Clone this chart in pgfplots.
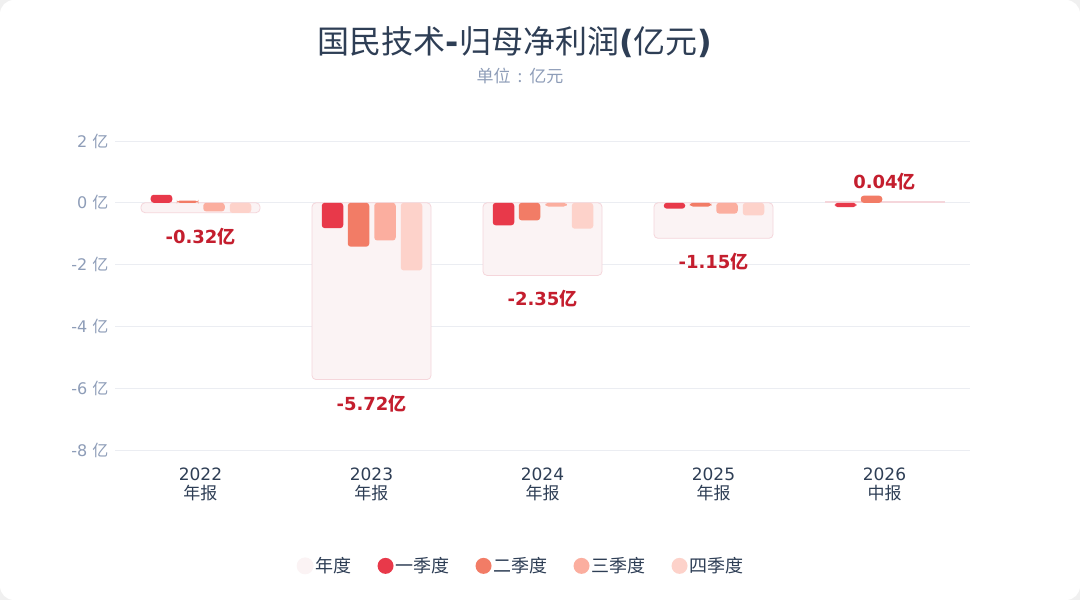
\documentclass[border=0pt]{standalone}
\usepackage{pgfplots}
\pgfplotsset{compat=1.18}
\usepackage{fontspec}
\setmainfont{DejaVu Sans}
\newfontfamily\cjk{Noto Sans CJK SC}
\newfontfamily\djv{DejaVu Sans}
\definecolor{qa}{HTML}{E8394A}
\definecolor{qb}{HTML}{F27C66}
\definecolor{qc}{HTML}{FBAE9F}
\definecolor{qd}{HTML}{FDD2CA}
\definecolor{annf}{HTML}{FBF3F4}
\definecolor{annd}{HTML}{F5D6DB}
\definecolor{lblred}{HTML}{C41E2E}
\definecolor{titlec}{HTML}{2E3E55}
\definecolor{grayc}{HTML}{8E9DB8}
\definecolor{gridc}{HTML}{EBEDF2}
\begin{document}
\begin{tikzpicture}[x=1pt,y=1pt]
\fill[black!6] (0,0) rectangle (1080,600);
\fill[white,rounded corners=14pt] (0,0) rectangle (1080,600);
\node[font=\cjk\fontsize{32}{36}\selectfont, text=titlec] at (515,558) {国民技术{\djv\bfseries -}归母净利润{\djv\bfseries (}亿元{\djv\bfseries )}};
\node[font=\cjk\fontsize{17}{20}\selectfont, text=grayc] at (520,524) {单位\hspace{7pt}:\hspace{7pt}亿元};
\begin{axis}[
  at={(115pt,150pt)}, anchor=south west,
  scale only axis, width=855pt, height=309pt,
  xmin=-0.5, xmax=4.5, ymin=-8, ymax=2,
  ytick={-8,-6,-4,-2,0,2},
  yticklabels={{-8 {\cjk 亿}},{-6 {\cjk 亿}},{-4 {\cjk 亿}},{-2 {\cjk 亿}},{0 {\cjk 亿}},{2 {\cjk 亿}}},
  xtick={0,1,2,3,4},
  xticklabels={{2022\\{\cjk 年报}},{2023\\{\cjk 年报}},{2024\\{\cjk 年报}},{2025\\{\cjk 年报}},{2026\\{\cjk 中报}}},
  xticklabel style={align=center, font=\fontsize{17}{19}\selectfont, text=titlec, yshift=-14pt},
  yticklabel style={font=\fontsize{16}{18}\selectfont, text=grayc, xshift=-3pt},
  ymajorgrids, grid style={draw=gridc, line width=0.8pt},
  axis line style={draw=none}, major tick length=0pt,
  clip=false,
  legend columns=5,
  legend style={at={(axis description cs:0.475,-0.375)}, anchor=center, draw=none, fill=none,
    font=\cjk\fontsize{18}{20}\selectfont, text=titlec,
    /tikz/every even column/.append style={column sep=24pt}},
]
\addplot[ybar, bar width=119pt, bar shift=0pt, fill=annf, draw=annd, line width=0.8pt, rounded corners=4pt,
  legend image code/.code={\fill[annf] (0.3cm,0pt) circle (8pt);}]
  coordinates {(0,-0.32) (1,-5.72) (2,-2.35) (3,-1.15)};
\addlegendentry{年度}
\addplot[ybar, bar width=119pt, bar shift=0pt, fill=annf, draw=annd, line width=0.8pt, forget plot]
  coordinates {(4,0.04)};
\addplot[ybar, bar width=21.5pt, bar shift=-39pt, fill=qa, draw=none, rounded corners=3pt,
  legend image code/.code={\fill[qa] (0.3cm,0pt) circle (8pt);}]
  coordinates {(0,0.26) (1,-0.82) (2,-0.73) (3,-0.19) (4,-0.14)};
\addlegendentry{一季度}
\addplot[ybar, bar width=21.5pt, bar shift=-13pt, fill=qb, draw=none, rounded corners=3pt,
  legend image code/.code={\fill[qb] (0.3cm,0pt) circle (8pt);}]
  coordinates {(0,0.07) (1,-1.42) (2,-0.57) (3,-0.12) (4,0.23)};
\addlegendentry{二季度}
\addplot[ybar, bar width=21.5pt, bar shift=13.5pt, fill=qc, draw=none, rounded corners=3pt,
  legend image code/.code={\fill[qc] (0.3cm,0pt) circle (8pt);}]
  coordinates {(0,-0.28) (1,-1.22) (2,-0.12) (3,-0.35)};
\addlegendentry{三季度}
\addplot[ybar, bar width=21.5pt, bar shift=40pt, fill=qd, draw=none, rounded corners=3pt,
  legend image code/.code={\fill[qd] (0.3cm,0pt) circle (8pt);}]
  coordinates {(0,-0.33) (1,-2.19) (2,-0.84) (3,-0.41)};
\addlegendentry{四季度}
% value labels, negative
\addplot[draw=none, mark=none, forget plot, point meta=explicit symbolic,
  nodes near coords={\textbf{\pgfplotspointmeta}{\cjk\bfseries 亿}},
  every node near coord/.style={font=\fontsize{18}{20}\selectfont, text=lblred, inner sep=0pt, anchor=north, yshift=-15pt}]
  coordinates {(0,-0.32) [-0.32] (1,-5.72) [-5.72] (2,-2.35) [-2.35] (3,-1.15) [-1.15]};
% value labels, positive
\addplot[draw=none, mark=none, forget plot, point meta=explicit symbolic,
  nodes near coords={\textbf{\pgfplotspointmeta}{\cjk\bfseries 亿}},
  every node near coord/.style={font=\fontsize{18}{20}\selectfont, text=lblred, inner sep=0pt, anchor=south, yshift=11pt}]
  coordinates {(4,0.04) [0.04]};
\end{axis}
\end{tikzpicture}
\end{document}
